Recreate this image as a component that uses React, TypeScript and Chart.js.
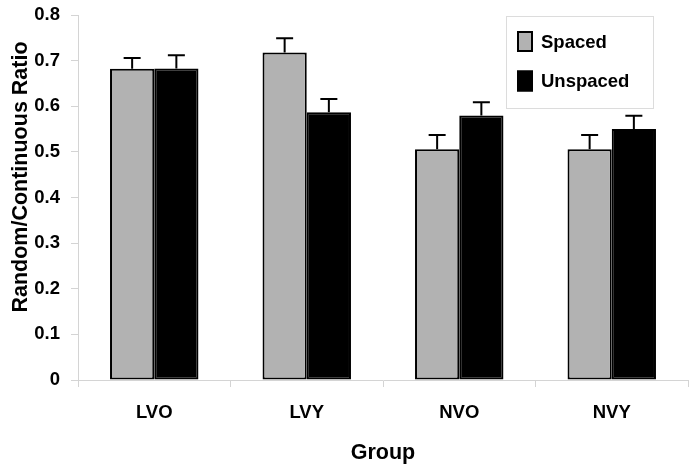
import React, { useEffect, useRef } from "react";
import { Chart, registerables } from "chart.js";

Chart.register(...registerables);

const categories = ["LVO", "LVY", "NVO", "NVY"];
const spacedValues = [0.682, 0.718, 0.506, 0.506];
const spacedErrors = [0.024, 0.031, 0.031, 0.031];
const unspacedValues = [0.683, 0.587, 0.580, 0.550];
const unspacedErrors = [0.029, 0.029, 0.029, 0.029];
const yTicks = [0, 0.1, 0.2, 0.3, 0.4, 0.5, 0.6, 0.7, 0.8];
const yTitle = "Random/Continuous Ratio";
const xTitle = "Group";

const FONT = "'Liberation Sans', Arial, sans-serif";
const AXIS_GRAY = "#d4d4d4";

const errorBarPlugin = {
  id: "errorBars",
  afterDatasetsDraw(chart: any) {
    const ctx = chart.ctx;
    const yScale = chart.scales.y;
    const errs = [spacedErrors, unspacedErrors];
    chart.data.datasets.forEach((ds: any, di: number) => {
      const meta = chart.getDatasetMeta(di);
      meta.data.forEach((bar: any, i: number) => {
        const v = ds.data[i];
        const top = yScale.getPixelForValue(v + errs[di][i]);
        const base = yScale.getPixelForValue(v);
        ctx.save();
        ctx.strokeStyle = "#000";
        ctx.lineWidth = 2;
        ctx.beginPath();
        ctx.moveTo(bar.x, base);
        ctx.lineTo(bar.x, top);
        ctx.moveTo(bar.x - 8.5, top);
        ctx.lineTo(bar.x + 8.5, top);
        ctx.stroke();
        ctx.restore();
      });
    });
  },
};

const yTitlePlugin = {
  id: "yTitle",
  afterDraw(chart: any) {
    const ctx = chart.ctx;
    ctx.save();
    ctx.translate(21, 177);
    ctx.rotate(-Math.PI / 2);
    ctx.fillStyle = "#000";
    ctx.font = `bold 21.5px ${FONT}`;
    ctx.textAlign = "center";
    ctx.textBaseline = "middle";
    ctx.fillText(yTitle, 0, 0);
    ctx.restore();
  },
};

const legendPlugin = {
  id: "customLegend",
  afterDraw(chart: any) {
    const ctx = chart.ctx;
    ctx.save();
    ctx.fillStyle = "#fff";
    ctx.fillRect(506, 16, 147, 92);
    ctx.strokeStyle = "#dcdcdc";
    ctx.lineWidth = 1;
    ctx.strokeRect(506.5, 16.5, 147, 92);
    const items = chart.data.datasets;
    const rows = [41.5, 81];
    items.forEach((ds: any, i: number) => {
      const cy = rows[i];
      ctx.fillStyle = ds.backgroundColor;
      ctx.fillRect(517, cy - 10.5, 16, 21);
      ctx.strokeStyle = "#000";
      ctx.lineWidth = 2;
      ctx.strokeRect(518, cy - 9.5, 14, 19);
      ctx.fillStyle = "#000";
      ctx.font = `bold 18.5px ${FONT}`;
      ctx.textBaseline = "middle";
      ctx.textAlign = "left";
      ctx.fillText(ds.label, 541, cy + 1);
    });
    ctx.restore();
  },
};

export default function App() {
  const canvasRef = useRef<HTMLCanvasElement>(null);

  useEffect(() => {
    const canvas = canvasRef.current;
    if (!canvas) return;
    const chart = new Chart(canvas, {
      type: "bar",
      data: {
        labels: categories,
        datasets: [
          {
            label: "Spaced",
            data: spacedValues,
            backgroundColor: "#b2b2b2",
            borderColor: "#000",
            borderWidth: 2,
            borderSkipped: false,
            categoryPercentage: 0.58,
            barPercentage: 1.0,
          },
          {
            label: "Unspaced",
            data: unspacedValues,
            backgroundColor: "#000000",
            borderColor: "#000",
            borderWidth: 2,
            borderSkipped: false,
            categoryPercentage: 0.58,
            barPercentage: 1.0,
          },
        ],
      },
      options: {
        responsive: false,
        animation: false,
        layout: { padding: { left: 0, top: 15, right: 3, bottom: 0 } },
        plugins: {
          legend: { display: false },
          tooltip: { enabled: false },
          title: { display: false },
        },
        scales: {
          x: {
            grid: {
              display: true,
              drawOnChartArea: false,
              drawTicks: true,
              tickLength: 7,
              color: AXIS_GRAY,
              offset: true,
            },
            border: { color: AXIS_GRAY, width: 1 },
            ticks: {
              color: "#000",
              font: { family: FONT, size: 18.5, weight: "bold" },
              padding: 15,
            },
            title: {
              display: true,
              text: xTitle,
              color: "#000",
              font: { family: FONT, size: 21.5, weight: "bold" },
              padding: { top: 0, bottom: -2 },
            },
            afterFit(scale: any) {
              scale.height = 84;
            },
          },
          y: {
            min: 0,
            max: 0.8,
            grid: {
              display: true,
              drawOnChartArea: false,
              drawTicks: true,
              tickLength: 7,
              color: AXIS_GRAY,
            },
            border: { color: AXIS_GRAY, width: 1 },
            afterBuildTicks(scale: any) {
              scale.ticks = yTicks.map((v) => ({ value: v }));
            },
            ticks: {
              color: "#000",
              font: { family: FONT, size: 18.5, weight: "bold" },
              padding: 11,
              callback: (v: any) => (Number(v) === 0 ? "0" : Number(v).toFixed(1)),
            },
            title: { display: false, text: yTitle },
            afterFit(scale: any) {
              scale.width = 78;
              scale.paddingTop = 0;
              scale.paddingBottom = 0;
            },
          },
        },
      },
      plugins: [errorBarPlugin, yTitlePlugin, legendPlugin],
    } as any);
    return () => chart.destroy();
  }, []);

  return (
    <div style={{ position: "fixed", left: 0, top: 0, width: 691, height: 464, background: "#fff" }}>
      <canvas ref={canvasRef} width={691} height={464} style={{ display: "block" }} />
    </div>
  );
}
